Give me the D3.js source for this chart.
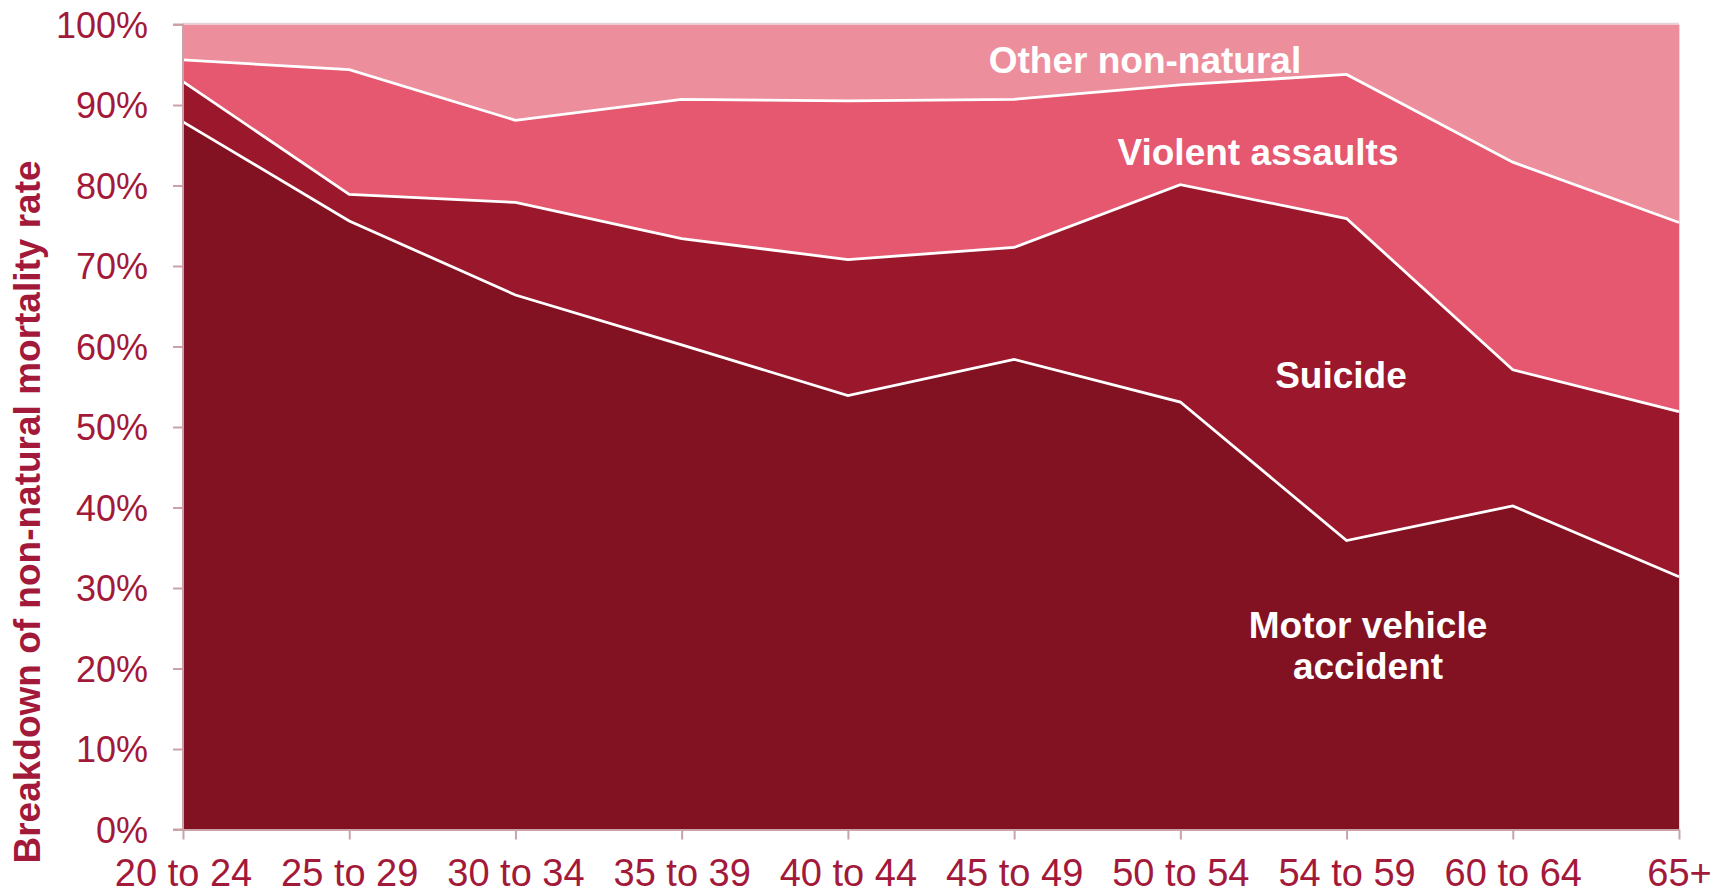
<!DOCTYPE html>
<html><head><meta charset="utf-8">
<script src="https://cdn.jsdelivr.net/npm/d3@7"></script>
<style>body{margin:0;background:#fff}svg{display:block}text{font-family:"Liberation Sans",Arial,sans-serif}</style>
</head><body>
<svg id="c" width="1727" height="893"></svg>
<script>
const categories = ["20 to 24","25 to 29","30 to 34","35 to 39","40 to 44","45 to 49","50 to 54","54 to 59","60 to 64","65+"];
const motorVehicle = [87.9,75.6,66.4,60.2,53.9,58.4,53.1,35.9,40.2,31.4];
const suicide      = [5.0,3.3,11.5,13.2,16.9,13.9,27.0,40.0,16.9,20.5];
const violent      = [2.7,15.5,10.2,17.3,19.7,18.4,12.4,17.9,25.8,23.5];
const other        = [4.4,5.6,11.9,9.3,9.5,9.3,7.5,6.2,17.1,24.6];
const seriesNames = ["Motor vehicle accident","Suicide","Violent assaults","Other non-natural"];
const yTicks = [0,10,20,30,40,50,60,70,80,90,100];

const colors = ["#821222","#9B172C","#E55870","#ED8E9D"];
const txt = "#A3193A", axisCol = "#C9A2A8";

const svg = d3.select("#c");
const L=183, R=1679, T=24.5, B=829.5;
const x = d3.scalePoint().domain(categories).range([L,R]);
const y = d3.scaleLinear().domain([0,100]).range([B,T]);

const rows = categories.map((c,i)=>({cat:c, m:motorVehicle[i], s:suicide[i], v:violent[i], o:other[i]}));
const stack = d3.stack().keys(["m","s","v","o"]);
const layers = stack(rows);

const area = d3.area().x(d=>x(d.data.cat)).y0(d=>y(d[0])).y1(d=>y(d[1]));
svg.append("g").selectAll("path").data(layers).join("path")
  .attr("d",area).attr("fill",(d,i)=>colors[i]);
const line = d3.line().x(d=>x(d.data.cat)).y(d=>y(d[1]));
svg.append("g").selectAll("path").data(layers.slice(0,3)).join("path")
  .attr("d",line).attr("fill","none").attr("stroke","#fff").attr("stroke-width",2.8);

svg.append("line").attr("x1",L).attr("x2",R).attr("y1",T-1).attr("y2",T-1).attr("stroke","#e6d3d6").attr("stroke-width",1.5);
svg.append("line").attr("x1",R+0.5).attr("x2",R+0.5).attr("y1",T).attr("y2",B).attr("stroke","#f2d6db").attr("stroke-width",1);

const ya = svg.append("g").attr("transform",`translate(${L},0)`)
  .call(d3.axisLeft(y).tickValues(yTicks).tickFormat(d=>d+"%").tickSize(10).tickPadding(25));
ya.selectAll("path,line").attr("stroke",axisCol).attr("stroke-width",2);
ya.select(".domain").attr("d",`M-10,${T}H0V${B}H-10`);
ya.selectAll("text").attr("fill",txt).style("font-size","36px").attr("dy","0.36em");

const xa = svg.append("g").attr("transform",`translate(0,${B})`)
  .call(d3.axisBottom(x).tickSize(10).tickSizeOuter(0).tickPadding(20));
xa.selectAll("path,line").attr("stroke",axisCol).attr("stroke-width",2);
xa.selectAll("text").attr("fill",txt).style("font-size","38px").attr("dy","0.71em");

svg.append("text").attr("transform","translate(40,512) rotate(-90)")
  .attr("text-anchor","middle").attr("fill",txt).style("font-size","37px").style("font-weight","bold")
  .text("Breakdown of non-natural mortality rate");

const lab = [
  {t:"Other non-natural", x:1145, y:73},
  {t:"Violent assaults", x:1258, y:165},
  {t:"Suicide", x:1341, y:388},
  {t:"Motor vehicle", x:1368, y:638},
  {t:"accident", x:1368, y:679}
];
svg.append("g").selectAll("text").data(lab).join("text")
  .attr("x",d=>d.x).attr("y",d=>d.y).attr("text-anchor","middle")
  .attr("fill","#fff").style("font-size","37px").style("font-weight","bold").text(d=>d.t);
</script>
</body></html>
